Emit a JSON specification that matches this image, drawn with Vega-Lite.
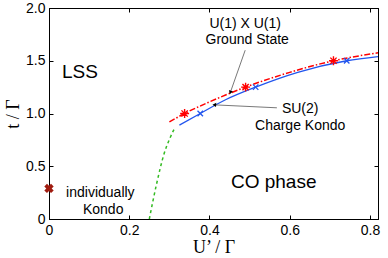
{
  "$schema": "https://vega.github.io/schema/vega-lite/v6.json",
  "autosize": {"type": "none"},
  "width": 329,
  "height": 211,
  "padding": {"left": 49, "top": 8, "right": 10, "bottom": 39},
  "background": "white",
  "config": {
    "view": {"stroke": "black", "strokeWidth": 1},
    "axis": {
      "domainColor": "black", "tickColor": "black", "grid": false,
      "labelFont": "Liberation Sans", "labelFontSize": 14, "labelColor": "black",
      "titleFont": "Liberation Serif", "titleFontSize": 18, "titleFontWeight": "normal", "titleColor": "black",
      "tickSize": -4
    }
  },
  "datasets": {
    "red": [
      {"x": 0.30, "y": 0.92}, {"x": 0.338, "y": 1.0}, {"x": 0.40, "y": 1.11},
      {"x": 0.49, "y": 1.25}, {"x": 0.60, "y": 1.39}, {"x": 0.709, "y": 1.50}, {"x": 0.82, "y": 1.575}
    ],
    "blue": [
      {"x": 0.325, "y": 0.89}, {"x": 0.377, "y": 1.0}, {"x": 0.44, "y": 1.13},
      {"x": 0.515, "y": 1.25}, {"x": 0.62, "y": 1.39}, {"x": 0.742, "y": 1.50}, {"x": 0.82, "y": 1.54}
    ],
    "green": [
      {"x": 0.25, "y": 0.0}, {"x": 0.268, "y": 0.33}, {"x": 0.287, "y": 0.62},
      {"x": 0.303, "y": 0.78}, {"x": 0.313, "y": 0.86}
    ],
    "stars": [{"x": 0.338, "y": 1.0}, {"x": 0.49, "y": 1.25}, {"x": 0.709, "y": 1.5}],
    "crosses": [{"x": 0.377, "y": 1.0}, {"x": 0.515, "y": 1.25}, {"x": 0.742, "y": 1.5}],
    "labels": [
      {"x": 0.077, "y": 1.39, "t": "LSS", "s": 19},
      {"x": 0.56, "y": 0.35, "t": "CO phase", "s": 19},
      {"x": 0.128, "y": 0.25, "t": "individually", "s": 14},
      {"x": 0.135, "y": 0.085, "t": "Kondo", "s": 14},
      {"x": 0.489, "y": 1.85, "t": "U(1) X U(1)", "s": 14},
      {"x": 0.494, "y": 1.70, "t": "Ground State", "s": 14},
      {"x": 0.626, "y": 1.045, "t": "SU(2)", "s": 14},
      {"x": 0.626, "y": 0.88, "t": "Charge Kondo", "s": 14}
    ],
    "arrows": [
      {"x": 0.489, "y": 1.60, "x2": 0.452, "y2": 1.20, "a": 200},
      {"x": 0.568, "y": 1.054, "x2": 0.412, "y2": 1.082, "a": 274}
    ]
  },
  "layer": [
    {
      "layer": [
        {
          "data": {"name": "green"},
          "mark": {"type": "line", "color": "#33bb22", "strokeDash": [3, 3], "strokeWidth": 1.5, "interpolate": "monotone"},
          "encoding": {
            "x": {"field": "x", "type": "quantitative", "scale": {"domain": [0, 0.82], "nice": false},
              "axis": {"values": [0, 0.2, 0.4, 0.6, 0.8], "labelExpr": "datum.value == 0 ? '0' : format(datum.value, '.1f')", "title": "U’ / Γ", "titlePadding": 1, "labelPadding": 8, "labelFlush": false}},
            "y": {"field": "y", "type": "quantitative", "scale": {"domain": [0, 2], "nice": false},
              "axis": {"values": [0, 0.5, 1, 1.5, 2], "labelExpr": "datum.value == 0 ? '0' : format(datum.value, '.1f')", "title": "t / Γ", "titlePadding": 3, "labelPadding": 8, "labelFlush": false}},
            "order": {"field": "y"}
          }
        },
        {
          "data": {"name": "red"},
          "mark": {"type": "line", "color": "red", "strokeDash": [6, 2, 1.5, 2], "strokeWidth": 1.5, "interpolate": "monotone"},
          "encoding": {"x": {"field": "x", "type": "quantitative"}, "y": {"field": "y", "type": "quantitative"}}
        },
        {
          "data": {"name": "blue"},
          "mark": {"type": "line", "color": "#2255ee", "strokeWidth": 1.3, "interpolate": "monotone"},
          "encoding": {"x": {"field": "x", "type": "quantitative"}, "y": {"field": "y", "type": "quantitative"}}
        },
        {
          "data": {"name": "stars"},
          "mark": {"type": "point", "shape": "M-1,0L1,0M0,-1L0,1M-0.7,-0.7L0.7,0.7M-0.7,0.7L0.7,-0.7", "color": "red", "strokeWidth": 1.4, "size": 80, "filled": false, "opacity": 1},
          "encoding": {"x": {"field": "x", "type": "quantitative"}, "y": {"field": "y", "type": "quantitative"}}
        },
        {
          "data": {"name": "crosses"},
          "mark": {"type": "point", "shape": "M-1,-1L1,1M-1,1L1,-1", "color": "#2255ee", "strokeWidth": 1.3, "size": 30, "filled": false, "opacity": 1},
          "encoding": {"x": {"field": "x", "type": "quantitative"}, "y": {"field": "y", "type": "quantitative"}}
        },
        {
          "data": {"values": [{"x": 0, "y": 0.29}]},
          "mark": {"type": "point", "shape": "cross", "angle": 45, "color": "#a01c10", "filled": true, "size": 90, "clip": false, "opacity": 1},
          "encoding": {"x": {"field": "x", "type": "quantitative"}, "y": {"field": "y", "type": "quantitative"}}
        },
        {
          "data": {"name": "arrows"},
          "mark": {"type": "rule", "color": "#555555", "strokeWidth": 0.8},
          "encoding": {
            "x": {"field": "x", "type": "quantitative"}, "y": {"field": "y", "type": "quantitative"},
            "x2": {"field": "x2"}, "y2": {"field": "y2"}
          }
        },
        {
          "data": {"name": "arrows"},
          "mark": {"type": "point", "shape": "triangle-up", "color": "black", "filled": true, "size": 18, "opacity": 1},
          "encoding": {
            "x": {"field": "x2", "type": "quantitative"}, "y": {"field": "y2", "type": "quantitative"},
            "angle": {"field": "a", "type": "quantitative", "scale": null}
          }
        },
        {
          "data": {"name": "labels"},
          "mark": {"type": "text", "font": "Liberation Sans", "color": "black", "baseline": "middle", "align": "center"},
          "encoding": {
            "x": {"field": "x", "type": "quantitative"}, "y": {"field": "y", "type": "quantitative"},
            "text": {"field": "t"},
            "size": {"field": "s", "type": "quantitative", "scale": null}
          }
        }
      ]
    },
    {
      "data": {"values": [{"x": 0.4, "y": 1}]},
      "mark": {"type": "point", "opacity": 0},
      "encoding": {
        "x": {"field": "x", "type": "quantitative", "axis": {"orient": "top", "labels": false, "title": null, "values": [0, 0.2, 0.4, 0.6, 0.8]}},
        "y": {"field": "y", "type": "quantitative", "axis": {"orient": "right", "labels": false, "title": null, "values": [0, 0.5, 1, 1.5, 2]}}
      }
    }
  ],
  "resolve": {"axis": {"x": "independent", "y": "independent"}}
}
